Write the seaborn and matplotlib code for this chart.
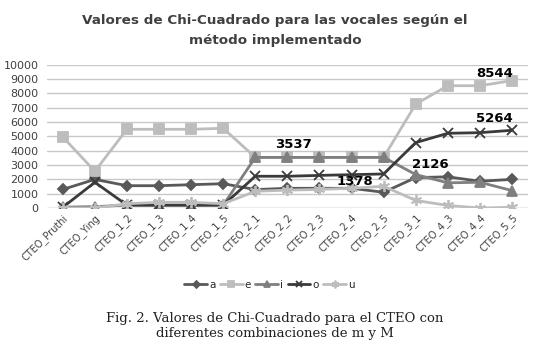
import numpy as np
import pandas as pd
import matplotlib
matplotlib.use('Agg')
import matplotlib.pyplot as plt
import seaborn as sns

categories = ['CTEO_Pruthi', 'CTEO_Ying', 'CTEO_1_2', 'CTEO_1_3', 'CTEO_1_4', 'CTEO_1_5',
              'CTEO_2_1', 'CTEO_2_2', 'CTEO_2_3', 'CTEO_2_4', 'CTEO_2_5', 'CTEO_3_1',
              'CTEO_4_3', 'CTEO_4_4', 'CTEO_5_5']
vals_a = [1300, 2000, 1560, 1560, 1630, 1700, 1290, 1378, 1378, 1378, 1100, 2126, 2180, 1870, 2000]
vals_e = [4960, 2570, 5500, 5500, 5500, 5570, 3537, 3537, 3537, 3537, 3537, 7260, 8544, 8544, 8900]
vals_i = [60, 100, 200, 200, 200, 200, 3537, 3537, 3537, 3537, 3537, 2340, 1760, 1800, 1220]
vals_o = [50, 1800, 200, 200, 200, 200, 2220, 2220, 2280, 2330, 2380, 4570, 5220, 5264, 5430]
vals_u = [0, 0, 300, 400, 400, 300, 1170, 1250, 1300, 1378, 1520, 530, 180, 0, 50]

# (text, category index, value)
labels = [('3537', 7, 3537), ('1378', 9, 1378), ('2126', 11, 2126),
          ('8544', 13, 8544), ('5264', 13, 5264)]

series = {'a': vals_a, 'e': vals_e, 'i': vals_i, 'o': vals_o, 'u': vals_u}
df = pd.DataFrame([(c, k, v) for k, vs in series.items() for c, v in zip(categories, vs)],
                  columns=['cat', 'serie', 'valor'])
df['x'] = df['cat'].map({c: n for n, c in enumerate(categories)})

sns.set_style('white')
plt.rcParams['font.family'] = ['DejaVu Sans']

colors = {'a': '#595959', 'e': '#BDBDBD', 'i': '#7F7F7F', 'o': '#3A3A3A', 'u': '#BDBDBD'}
markers = {'a': 'D', 'e': 's', 'i': '^', 'o': 'x', 'u': (6, 2, 0)}
msizes = {'a': 5, 'e': 7, 'i': 7, 'o': 7, 'u': 8}

fig = plt.figure(figsize=(5.5, 3.45), dpi=100)
ax = fig.add_axes([0.085, 0.397, 0.875, 0.415])

for k in series:
    sub = df[df['serie'] == k]
    sns.lineplot(data=sub, x='x', y='valor', ax=ax, color=colors[k], marker=markers[k],
                 markersize=msizes[k], markeredgecolor=colors[k], markeredgewidth=1.3,
                 linewidth=2, label=k, legend=False)

# label placement offsets (x in categories, y in data units)
offsets = [(0.2, 900), (0.1, 480), (0.45, 900), (0.45, 880), (0.45, 1010)]
for (txt, ci, v), (dx, dy) in zip(labels, offsets):
    ax.text(ci + dx, v + dy, txt, fontsize=9.5, fontweight='bold', ha='center', va='center',
            color='black')

ax.set_ylim(0, 10000)
ax.set_yticks(np.arange(0, 10001, 1000))
ax.set_xlim(-0.5, len(categories) - 0.5)
ax.set_xticks(range(len(categories)))
ax.set_xticklabels(categories, rotation=45, ha='right', rotation_mode='anchor', fontsize=7, color='#404040')
ax.tick_params(axis='y', labelsize=8, labelcolor='#404040', length=0, pad=6)
ax.tick_params(axis='x', length=0, pad=3)
ax.yaxis.grid(True, color='#C8C8C8', linewidth=1)
ax.set_xlabel('')
ax.set_ylabel('')
for s in ax.spines.values():
    s.set_visible(False)
ax.axhline(0, color='#C8C8C8', linewidth=1, zorder=0)

handles, lbls = ax.get_legend_handles_labels()
fig.legend(handles, lbls, loc='center', bbox_to_anchor=(0.49, 0.175), ncol=5, frameon=False,
           fontsize=7.5, handlelength=2.2, columnspacing=0.4, handletextpad=0.2, markerscale=0.7)

fig.text(0.5, 0.913, 'Valores de Chi-Cuadrado para las vocales según el\nmétodo implementado',
         ha='center', va='center', fontsize=9.7, fontweight='bold', color='#404040', linespacing=1.7)
fig.text(0.5, 0.055, 'Fig. 2. Valores de Chi-Cuadrado para el CTEO con\ndiferentes combinaciones de m y M',
         ha='center', va='center', fontsize=9.5, family='DejaVu Serif', color='#222222', linespacing=1.2)

fig.savefig('out.png', dpi=100)
